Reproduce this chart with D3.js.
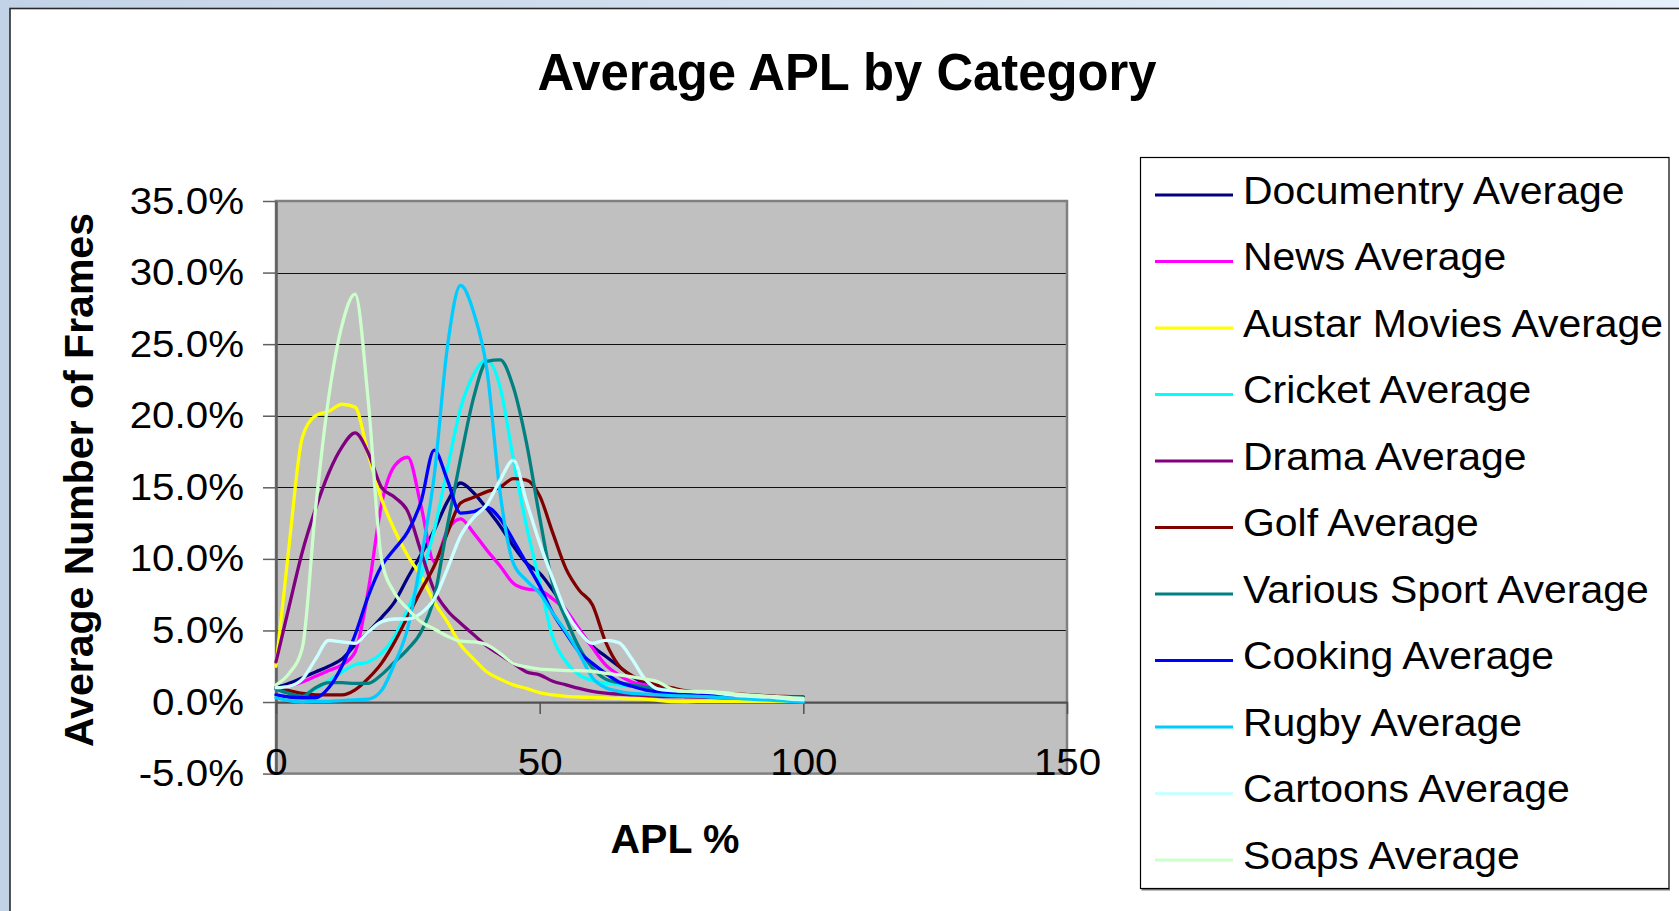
<!DOCTYPE html>
<html>
<head>
<meta charset="utf-8">
<script src="https://cdn.jsdelivr.net/npm/d3@7"></script>
<style>
  html, body { margin: 0; padding: 0; overflow: hidden; }
  svg { display: block; }
  text { font-family: "Liberation Sans", Arial, sans-serif; fill: #000; }
</style>
</head>
<body>
<svg id="chart" width="1679" height="911"></svg>
<script>
// ---------------- DATA ----------------
const apl = [0, 2.5, 5, 7.5, 10, 12.5, 15, 17.5, 20, 22.5, 25, 27.5, 30, 32.5, 35, 37.5, 40, 42.5, 45, 47.5,
             50, 52.5, 55, 57.5, 60, 62.5, 65, 67.5, 70, 72.5, 75, 77.5, 80, 82.5, 85, 87.5, 90, 92.5, 95, 97.5, 100];

const seriesNames = ["Documentry Average", "News Average", "Austar Movies Average", "Cricket Average",
  "Drama Average", "Golf Average", "Various Sport Average", "Cooking Average", "Rugby Average",
  "Cartoons Average", "Soaps Average"];

const seriesColors = ["#000080", "#ff00ff", "#ffff00", "#00ffff", "#800080", "#800000", "#008080",
  "#0000ff", "#00ccff", "#ccffff", "#ccffcc"];

const documentry = [1.0,1.3,1.7,2.1,2.5,3.0,4.0,4.9,5.9,7.0,8.7,10.3,12.0,14.0,15.3,14.6,13.5,12.3,10.9,9.7,
  9.0,7.8,6.4,5.0,3.9,3.2,2.5,1.8,1.3,0.9,0.7,0.6,0.55,0.5,0.45,0.4,0.35,0.3,0.25,0.2,0.2];
const news = [0.9,1.1,1.4,1.8,2.2,2.6,3.5,7.8,13.8,16.5,17.1,13.7,9.8,12.0,12.8,11.8,10.6,9.5,8.3,7.9,
  7.8,7.2,6.4,5.1,3.8,2.6,1.9,1.4,1.2,0.9,0.7,0.6,0.5,0.45,0.4,0.35,0.3,0.25,0.22,0.2,0.2];
const austarMovies = [2.5,11.0,18.5,20.0,20.3,20.8,20.6,17.3,14.2,12.0,10.2,8.8,7.0,5.6,4.0,3.0,2.1,1.6,1.2,0.95,
  0.65,0.5,0.4,0.35,0.32,0.28,0.25,0.22,0.2,0.12,0.03,0.02,0.05,0.05,0.05,0.05,0.05,0.05,0.05,0.05,0.05];
const cricket = [0.9,0.7,0.6,0.9,1.5,2.1,2.6,2.8,3.4,4.6,6.5,8.8,12.0,16.3,20.5,22.9,23.9,22.0,17.0,12.3,
  8.4,4.5,2.8,1.9,1.5,1.3,1.2,1.1,1.0,0.85,0.7,0.6,0.6,0.55,0.5,0.45,0.4,0.35,0.3,0.2,0.1];
const drama = [2.8,6.7,10.5,13.5,16.0,17.8,18.8,17.4,15.0,14.3,13.3,10.5,7.8,6.4,5.5,4.7,3.9,3.3,2.7,2.1,
  1.9,1.45,1.2,0.95,0.75,0.62,0.55,0.5,0.45,0.4,0.38,0.37,0.35,0.32,0.3,0.28,0.25,0.22,0.2,0.18,0.15];
const golf = [1.0,0.8,0.6,0.5,0.5,0.5,0.85,1.65,2.7,4.2,6.0,7.8,9.5,11.8,13.9,14.3,14.7,15.0,15.6,15.5,
  14.4,11.8,9.3,7.8,6.8,4.2,2.55,1.85,1.45,1.15,1.0,0.8,0.7,0.65,0.6,0.55,0.5,0.45,0.4,0.38,0.35];
const variousSport = [0.9,0.6,0.4,1.0,1.35,1.35,1.3,1.3,1.9,2.8,3.7,4.9,7.3,12.3,17.0,21.3,23.8,23.9,22.0,18.1,
  12.9,8.2,5.8,3.8,2.4,1.6,1.35,1.2,1.05,0.9,0.8,0.65,0.6,0.55,0.5,0.45,0.42,0.4,0.37,0.35,0.33];
const cooking = [0.5,0.35,0.3,0.3,1.0,2.5,4.7,7.4,9.5,10.7,11.9,14.0,17.6,15.5,13.2,13.3,13.6,12.8,11.3,9.7,
  8.1,6.2,4.8,3.5,2.7,2.0,1.4,1.1,0.85,0.7,0.6,0.55,0.5,0.45,0.4,0.35,0.3,0.25,0.2,0.18,0.15];
const rugby = [0.3,0.1,0.0,0.05,0.05,0.1,0.15,0.2,0.8,2.7,5.2,10.0,15.8,24.8,29.1,27.2,23.2,14.6,9.7,8.5,
  7.6,6.2,4.9,3.4,1.7,1.0,0.75,0.6,0.55,0.5,0.45,0.42,0.4,0.35,0.3,0.25,0.2,0.15,0.1,0.05,0.0];
const cartoons = [1.0,1.1,1.6,3.0,4.3,4.2,4.1,4.9,5.6,5.8,5.8,6.2,7.2,9.3,11.6,12.9,13.8,15.5,16.9,14.0,
  11.1,8.6,6.3,4.9,4.1,4.3,4.15,3.0,1.6,0.9,0.8,0.75,0.7,0.65,0.55,0.45,0.4,0.35,0.3,0.2,0.15];
const soaps = [1.2,2.0,3.8,13.5,21.3,26.3,28.5,21.0,10.0,7.6,6.5,5.6,5.1,4.6,4.25,4.2,4.0,3.4,2.7,2.45,
  2.3,2.25,2.2,2.2,2.15,2.0,1.9,1.75,1.6,1.4,0.9,0.75,0.75,0.72,0.65,0.55,0.48,0.42,0.37,0.3,0.26];

const seriesValues = [documentry, news, austarMovies, cricket, drama, golf, variousSport, cooking, rugby, cartoons, soaps];

const xTicks = [0, 50, 100, 150];
const yTicks = [-5, 0, 5, 10, 15, 20, 25, 30, 35];

const titleText = "Average APL by Category";
const xTitle = "APL %";
const yTitle = "Average Number of Frames";

// ---------------- DRAW ----------------
const svg = d3.select("#chart");
const W = 1679, H = 911;
const plot = { left: 276, right: 1067, top: 201, bottom: 773.6 };

function widen(sel, f) {
  sel.each(function () {
    const w = this.getComputedTextLength();
    d3.select(this).attr("textLength", w * f).attr("lengthAdjust", "spacingAndGlyphs");
  });
}

// window background
const defs = svg.append("defs");
const bg = defs.append("linearGradient").attr("id", "bgGrad").attr("x1", 0).attr("y1", 0).attr("x2", 1).attr("y2", 0);
bg.append("stop").attr("offset", "0%").attr("stop-color", "#c3d3e7");
bg.append("stop").attr("offset", "100%").attr("stop-color", "#e6f0fa");
svg.append("rect").attr("width", W).attr("height", H).attr("fill", "url(#bgGrad)");

// chart frame
svg.append("rect").attr("x", 10).attr("y", 8.5).attr("width", W + 20).attr("height", H + 20)
  .attr("fill", "#ffffff").attr("stroke", "#2a2a2a").attr("stroke-width", 1.6);

const x = d3.scaleLinear().domain([0, 150]).range([plot.left, plot.right]);
const y = d3.scaleLinear().domain([-5, 35]).range([plot.bottom, plot.top]);

// plot area
svg.append("rect").attr("x", plot.left).attr("y", plot.top)
  .attr("width", plot.right - plot.left).attr("height", plot.bottom - plot.top)
  .attr("fill", "#c0c0c0");

// gridlines
svg.append("g").selectAll("line").data(yTicks.filter(d => d > 0 && d < 35)).join("line")
  .attr("x1", plot.left).attr("x2", plot.right)
  .attr("y1", d => Math.round(y(d)) + 0.5).attr("y2", d => Math.round(y(d)) + 0.5)
  .attr("stroke", "#111").attr("stroke-width", 1.2);

// plot border
svg.append("rect").attr("x", plot.left).attr("y", plot.top)
  .attr("width", plot.right - plot.left).attr("height", plot.bottom - plot.top)
  .attr("fill", "none").attr("stroke", "#808080").attr("stroke-width", 2.5);

// y axis
const yAxis = d3.axisLeft(y).tickValues(yTicks).tickSize(13).tickSizeOuter(0).tickPadding(19)
  .tickFormat(d => d.toFixed(1) + "%");
const gy = svg.append("g").attr("transform", `translate(${plot.left},0)`).call(yAxis);
gy.select(".domain").attr("stroke", "#606060").attr("stroke-width", 2.5);
gy.selectAll(".tick line").attr("stroke", "#606060").attr("stroke-width", 1.5);
gy.selectAll(".tick text").attr("font-size", 37.5).attr("dy", "0.32em")
  .style("font-family", '"Liberation Sans", Arial, sans-serif').attr("fill", "#000");
widen(gy.selectAll(".tick text"), 1.075);

// x axis at y = 0
const xAxis = d3.axisBottom(x).tickValues(xTicks).tickSize(12).tickSizeOuter(0).tickPadding(34)
  .tickFormat(d3.format("d"));
const gx = svg.append("g").attr("transform", `translate(0,${y(0)})`).call(xAxis);
gx.select(".domain").attr("stroke", "#505050").attr("stroke-width", 2.2);
gx.selectAll(".tick line").attr("stroke", "#505050").attr("stroke-width", 1.5);
gx.selectAll(".tick text").attr("font-size", 37.5)
  .style("font-family", '"Liberation Sans", Arial, sans-serif').attr("fill", "#000");
widen(gx.selectAll(".tick text"), 1.075);

// series lines
const line = d3.line()
  .x((d, i) => x(apl[i]))
  .y(d => y(d))
  .curve(d3.curveMonotoneX);

svg.append("g").selectAll("path").data(seriesValues).join("path")
  .attr("d", d => line(d))
  .attr("fill", "none")
  .attr("stroke", (d, i) => seriesColors[i])
  .attr("stroke-width", 3.3)
  .attr("stroke-linejoin", "round")
  .attr("stroke-linecap", "round");

// title
svg.append("text").attr("x", 847).attr("y", 90).attr("text-anchor", "middle")
  .attr("font-size", 51).attr("font-weight", "bold")
  .attr("textLength", 619).attr("lengthAdjust", "spacingAndGlyphs")
  .text(titleText);

// axis titles
svg.append("text").attr("x", 675).attr("y", 853).attr("text-anchor", "middle")
  .attr("font-size", 41).attr("font-weight", "bold").text(xTitle);

svg.append("text").attr("transform", "translate(93,480) rotate(-90)").attr("text-anchor", "middle")
  .attr("font-size", 41).attr("font-weight", "bold").text(yTitle);

// legend
const leg = { x: 1140.5, y: 157.5, w: 528.5, h: 731 };
svg.append("line").attr("x1", leg.x + 1).attr("x2", leg.x + leg.w + 1)
  .attr("y1", leg.y + leg.h + 1.2).attr("y2", leg.y + leg.h + 1.2)
  .attr("stroke", "#7a7a7a").attr("stroke-width", 1.5);
svg.append("rect").attr("x", leg.x).attr("y", leg.y).attr("width", leg.w).attr("height", leg.h)
  .attr("fill", "#ffffff").attr("stroke", "#000").attr("stroke-width", 1.2);

const rowY = d3.scaleLinear().domain([0, seriesNames.length - 1]).range([195, 860]);
const lg = svg.append("g").selectAll("g").data(seriesNames).join("g")
  .attr("transform", (d, i) => `translate(0,${rowY(i)})`);
lg.append("line").attr("x1", 1155).attr("x2", 1233).attr("y1", 0).attr("y2", 0)
  .attr("stroke", (d, i) => seriesColors[i]).attr("stroke-width", 3.2);
const lt = lg.append("text").attr("x", 1243).attr("y", 8.5).attr("font-size", 38).text(d => d);
widen(lt, 1.077);
</script>
</body>
</html>
